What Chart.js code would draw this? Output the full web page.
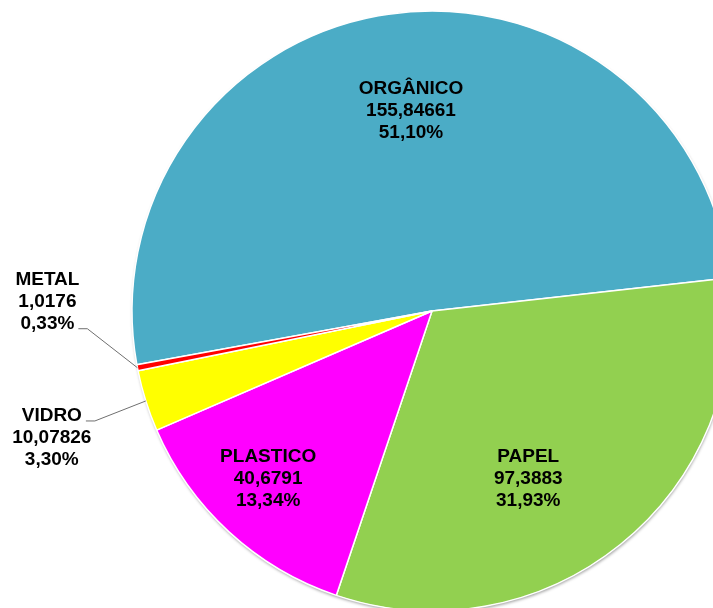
<!DOCTYPE html>
<html>
<head>
<meta charset="utf-8">
<script src="https://cdn.jsdelivr.net/npm/chart.js@4.4.1/dist/chart.umd.min.js"></script>
<style>
    html, body { margin: 0; padding: 0; background: #fff; }
    #wrap { width: 713px; height: 608px; overflow: hidden; position: relative; }
    #wasteChart { position: absolute; left: 0; top: 0; }
</style>
</head>
<body>
<div id="wrap"><canvas id="wasteChart" width="864" height="622"></canvas></div>
<script>
var categories = ['ORGÂNICO', 'PAPEL', 'PLASTICO', 'VIDRO', 'METAL'];
var amounts = [155.84661, 97.3883, 40.6791, 10.07826, 1.0176];
var sliceColors = ['#4BACC6', '#92D050', '#FF00FF', '#FFFF00', '#FF0000'];

// where each label sits: inner ones by angle shift (deg) + radius fraction,
// outer ones by offset from the slice edge, with the row the leader line hooks to
var innerLabels = {
    'ORGÂNICO': { shift: 2.4, frac: 0.677 },
    'PAPEL': { shift: 8.8, frac: 0.64 },
    'PLASTICO': { shift: 2.0, frac: 0.778 }
};
var outerLabels = {
    'METAL': { dx: -90, dy: -68, row: 2 },
    'VIDRO': { dx: -94, dy: 35, row: 0 }
};

var FONT = 'bold 19px "Liberation Sans", Arial, sans-serif';
var ROW_H = 22;

function fmtNumber(v) {
    return String(v).replace('.', ',');
}

function fmtPercent(v, total) {
    return (v / total * 100).toFixed(2).replace('.', ',') + '%';
}

// soft shadow under the whole pie
var pieShadow = {
    id: 'pieShadow',
    beforeDatasetsDraw: function (chart) {
        var arc = chart.getDatasetMeta(0).data[0];
        if (!arc) return;
        var ctx = chart.ctx;
        ctx.save();
        ctx.shadowColor = 'rgba(0,0,0,0.35)';
        ctx.shadowBlur = 3;
        ctx.shadowOffsetX = 0.5;
        ctx.shadowOffsetY = 2;
        ctx.fillStyle = '#fff';
        ctx.beginPath();
        ctx.arc(arc.x, arc.y, arc.outerRadius, 0, Math.PI * 2);
        ctx.fill();
        ctx.restore();
    }
};

// name / value / percent labels
var sliceLabels = {
    id: 'sliceLabels',
    afterDatasetsDraw: function (chart) {
        var ctx = chart.ctx;
        var meta = chart.getDatasetMeta(0);
        var total = amounts.reduce(function (a, b) { return a + b; }, 0);

        ctx.save();
        ctx.font = FONT;
        ctx.fillStyle = '#000';
        ctx.textAlign = 'center';
        ctx.textBaseline = 'alphabetic';

        meta.data.forEach(function (arc, i) {
            var name = categories[i];
            var rows = [name, fmtNumber(amounts[i]), fmtPercent(amounts[i], total)];
            var mid = (arc.startAngle + arc.endAngle) / 2;
            var cx, cy;

            if (innerLabels[name]) {
                var p = innerLabels[name];
                var a = mid + p.shift * Math.PI / 180;
                cx = arc.x + Math.cos(a) * arc.outerRadius * p.frac;
                cy = arc.y + Math.sin(a) * arc.outerRadius * p.frac;
            } else if (outerLabels[name]) {
                var o = outerLabels[name];
                var ex = arc.x + Math.cos(mid) * arc.outerRadius;
                var ey = arc.y + Math.sin(mid) * arc.outerRadius;
                cx = ex + o.dx;
                cy = ey + o.dy;

                var rowCenter = cy + (o.row - 1) * ROW_H;
                var hookX = cx + ctx.measureText(rows[o.row]).width / 2 + 4;
                var hookY = rowCenter + 7;

                ctx.save();
                ctx.strokeStyle = '#6f6f6f';
                ctx.lineWidth = 1;
                ctx.beginPath();
                ctx.moveTo(hookX, hookY);
                ctx.lineTo(hookX + 9, hookY);
                ctx.lineTo(ex, ey);
                ctx.stroke();
                ctx.restore();
            } else {
                return;
            }

            rows.forEach(function (t, r) {
                ctx.fillText(t, cx, cy + (r - 1) * ROW_H + 6.8);
            });
        });
        ctx.restore();
    }
};

var chartConfig = {
    type: 'pie',
    data: {
        labels: categories,
        datasets: [
            {
                data: amounts,
                backgroundColor: sliceColors,
                borderColor: '#ffffff',
                borderWidth: 1.5,
                radius: 300
            }
        ]
    },
    options: {
        responsive: false,
        animation: false,
        devicePixelRatio: 1,
        rotation: 259.7,
        layout: { padding: 0 },
        plugins: {
            legend: { display: false },
            tooltip: { enabled: false },
            title: { display: false }
        }
    },
    plugins: [pieShadow, sliceLabels]
};

var ctx = document.getElementById('wasteChart').getContext('2d');
var wasteChart = new Chart(ctx, chartConfig);
</script>
</body>
</html>
